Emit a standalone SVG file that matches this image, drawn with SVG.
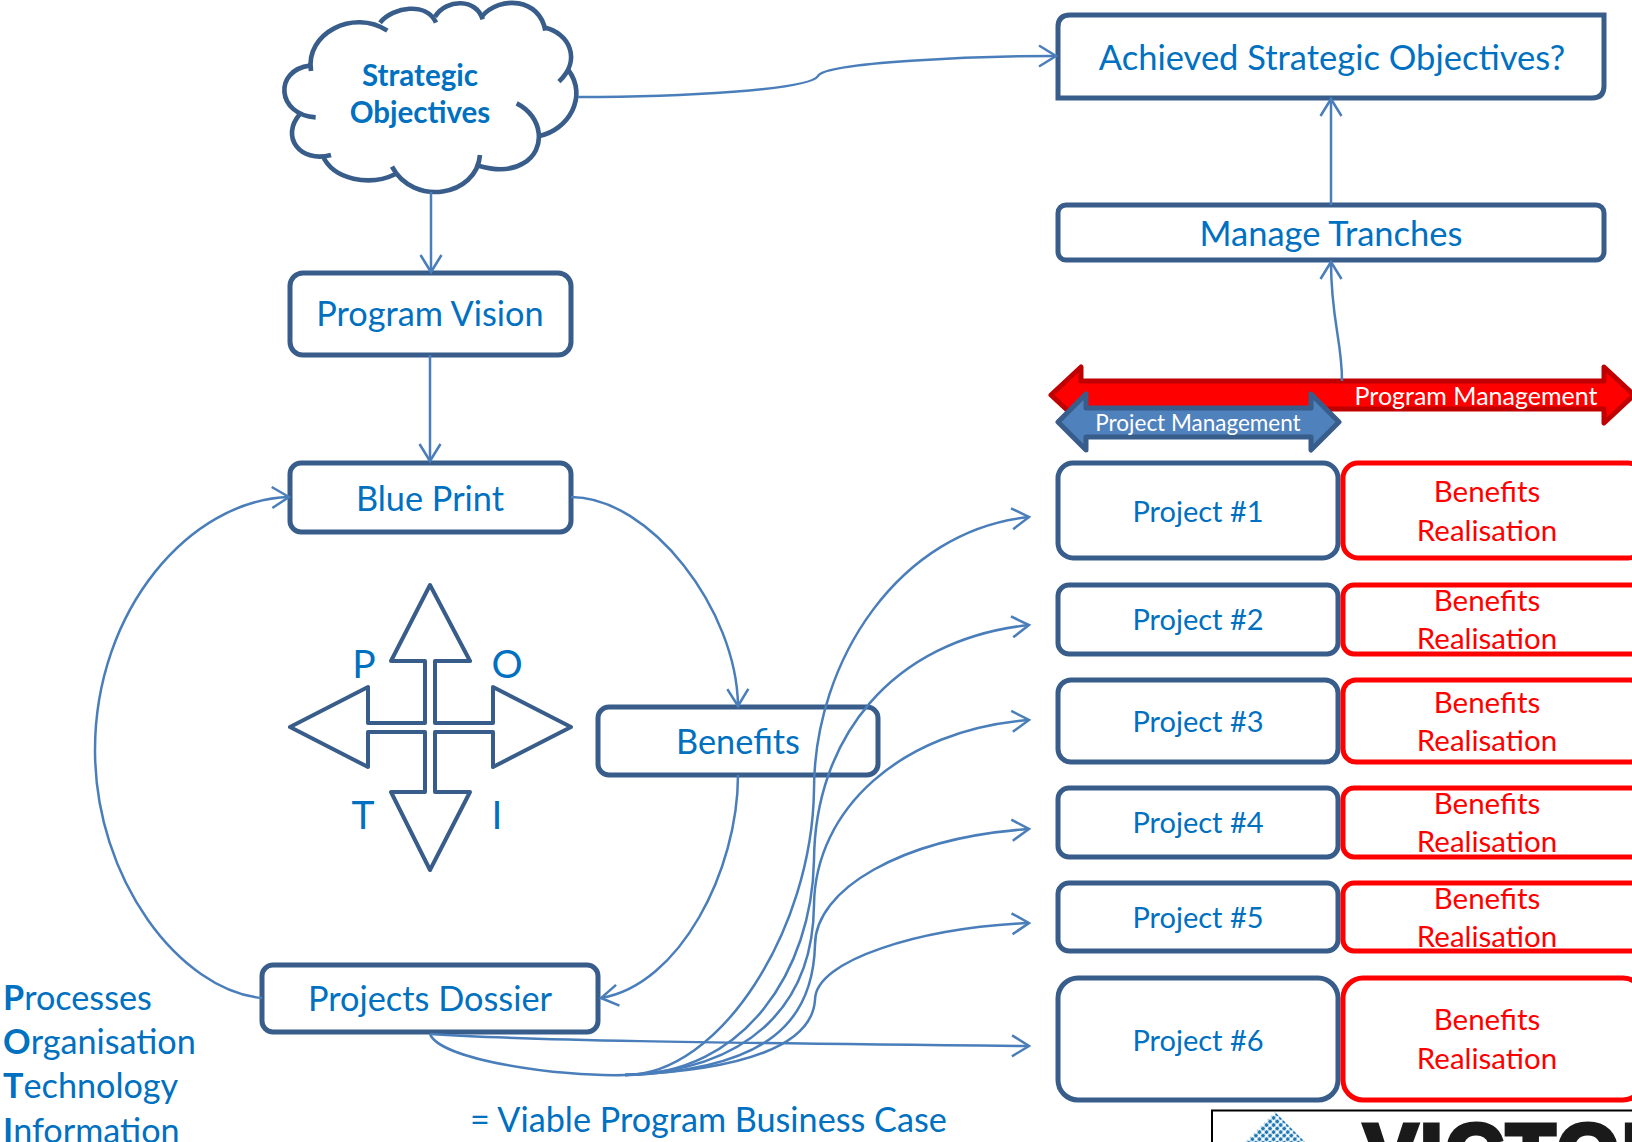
<svg xmlns="http://www.w3.org/2000/svg" width="1632" height="1142" viewBox="0 0 1632 1142">
<style>
text{font-family:"Lato","Liberation Sans",sans-serif;fill:#0070c0;text-anchor:middle}
.box{fill:#fff;stroke:#385d8a;stroke-width:5}
.red{fill:#fff;stroke:#f00;stroke-width:5}
.big{font-size:34.500px}
.mid{font-size:34.300px}
.prj{font-size:29px}
.ben{font-size:29.500px;fill:#f00}
.left{font-size:34.200px;text-anchor:start}
.c{fill:none;stroke:#4a7ebb;stroke-width:2.500}
.a{marker-end:url(#arr)}
</style>
<defs>
<marker id="arr" markerUnits="userSpaceOnUse" markerWidth="24" markerHeight="26" refX="18" refY="12" orient="auto"><path d="M1 1.500L18 12L1 22.500" fill="none" stroke="#4a7ebb" stroke-width="2.500"/></marker>
<pattern id="dots" width="5" height="5" patternUnits="userSpaceOnUse" patternTransform="rotate(45 1275 1113)"><circle cx="2.500" cy="2.500" r="1.900" fill="#1f78b4"/></pattern>
</defs>
<rect width="1632" height="1142" fill="#fff"/>
<g id="logo">
<rect x="1212" y="1110.500" width="430" height="50" fill="#fff" stroke="#000" stroke-width="2"/>
<polygon points="1275,1112 1307,1144 1243,1144" fill="url(#dots)"/>
<text x="1364" y="1180" style="font-family:'Liberation Sans',sans-serif;font-weight:700;font-size:80px;fill:#1a1a1a;stroke:#1a1a1a;stroke-width:5;text-anchor:start;letter-spacing:3px">VICTOR</text>
</g>
<g id="strategic-objectives">
<g transform="translate(260 0) scale(.3333)">
<path fill="#fff" d="M150 210C130 80 280 30 380 85C400 20 510 0 530 60C570 -5 650 0 670 55C730 -20 850 10 855 85C930 100 960 170 925 210C980 290 920 390 840 405C840 460 760 520 660 500C620 590 470 610 395 505C330 560 220 540 190 470C110 480 60 410 120 345C50 330 40 220 150 205Z"/>
<g fill="none" stroke="#385d8a" stroke-width="14">
<path d="M153 213C135 100 280 25 382 92"/>
<path d="M360 68C400 20 500 5 528 68"/>
<path d="M525 50C560 -5 650 -5 668 58"/>
<path d="M665 50C720 -15 840 -5 856 92"/>
<path d="M852 82C930 100 965 180 897 245"/>
<path d="M925 210C985 290 925 390 838 408"/>
<path d="M770 310C850 350 860 450 790 490C750 515 700 510 655 497"/>
<path d="M660 465C650 590 460 620 396 500"/>
<path d="M407 522C330 560 220 540 188 467"/>
<path d="M213 465C120 490 60 410 120 342"/>
<path d="M167 352C50 345 40 210 150 197"/>
</g>
</g>
<text x="420" y="86" font-weight="700" font-size="29.500px">Strategic</text>
<text x="420" y="123" font-weight="700" font-size="29.500px">Objectives</text>
</g>
<g id="achieved"><path class="box" d="M1070 15H1604V86Q1604 98 1592 98H1058V27Q1058 15 1070 15Z"/><text class="big" x="1332" y="70">Achieved Strategic Objectives?</text></g>
<g id="manage-tranches"><rect class="box" x="1058" y="205" width="546" height="55" rx="8"/><text class="big" x="1331" y="246">Manage Tranches</text></g>
<g id="program-vision"><rect class="box" x="290" y="273" width="281" height="82" rx="13"/><text class="mid" x="430" y="326">Program Vision</text></g>
<g id="blue-print"><rect class="box" x="290" y="463" width="281" height="69" rx="11"/><text class="mid" x="430" y="510.500">Blue Print</text></g>
<g id="benefits"><rect class="box" x="598" y="707" width="280" height="68" rx="11"/><text class="mid" x="738" y="754">Benefits</text></g>
<g id="projects-dossier"><rect class="box" x="262" y="965" width="336" height="67" rx="11"/><text class="mid" x="430" y="1011">Projects Dossier</text></g>
<g id="poti">
<polygon points="430,585 470,661 435,661 435,723 493,723 493,687 571,727 493,767 493,732 435,732 435,792 470,792 430,870 391,792 425,792 425,732 368,732 368,767 290,727 368,687 368,723 425,723 425,661 391,661" fill="#fff" stroke="#385d8a" stroke-width="4" stroke-linejoin="round"/>
<text x="364" y="678" font-size="39px">P</text>
<text x="507" y="678" font-size="39px">O</text>
<text x="363" y="829" font-size="39px">T</text>
<text x="497" y="829" font-size="39px">I</text>
</g>
<g id="program-management"><polygon points="1051,395 1081,367 1081,381 1604,381 1604,367 1634,395 1604,423 1604,409 1081,409 1081,423" fill="#f00" stroke="#c00000" stroke-width="5" stroke-linejoin="round"/><text x="1476" y="405" style="font-size:25px;fill:#fff">Program Management</text></g>
<g id="project-management"><polygon points="1058,422 1086,394 1086,408 1311,408 1311,394 1339,422 1311,450 1311,437 1086,437 1086,450" fill="#4f81bd" stroke="#385d8a" stroke-width="5" stroke-linejoin="round"/><text x="1198" y="430.500" style="font-size:22.500px;fill:#fff">Project Management</text></g>
<g id="project-1"><rect class="box" x="1058" y="463" width="280" height="95" rx="15"/><text class="prj" x="1198" y="522">Project #1</text></g>
<g id="benefits-1"><rect class="red" x="1343" y="463" width="300" height="95" rx="15"/><text class="ben" x="1487" y="502">Benefits</text><text class="ben" x="1487" y="541">Realisation</text></g>
<g id="project-2"><rect class="box" x="1058" y="585" width="280" height="69" rx="11"/><text class="prj" x="1198" y="630">Project #2</text></g>
<g id="benefits-2"><rect class="red" x="1343" y="585" width="300" height="69" rx="11"/><text class="ben" x="1487" y="611">Benefits</text><text class="ben" x="1487" y="649">Realisation</text></g>
<g id="project-3"><rect class="box" x="1058" y="680" width="280" height="82" rx="13"/><text class="prj" x="1198" y="732">Project #3</text></g>
<g id="benefits-3"><rect class="red" x="1343" y="680" width="300" height="82" rx="13"/><text class="ben" x="1487" y="713">Benefits</text><text class="ben" x="1487" y="751">Realisation</text></g>
<g id="project-4"><rect class="box" x="1058" y="788" width="280" height="69" rx="11"/><text class="prj" x="1198" y="833">Project #4</text></g>
<g id="benefits-4"><rect class="red" x="1343" y="788" width="300" height="69" rx="11"/><text class="ben" x="1487" y="814">Benefits</text><text class="ben" x="1487" y="852">Realisation</text></g>
<g id="project-5"><rect class="box" x="1058" y="883" width="280" height="68" rx="11"/><text class="prj" x="1198" y="927.500">Project #5</text></g>
<g id="benefits-5"><rect class="red" x="1343" y="883" width="300" height="68" rx="11"/><text class="ben" x="1487" y="909">Benefits</text><text class="ben" x="1487" y="947">Realisation</text></g>
<g id="project-6"><rect class="box" x="1058" y="978" width="280" height="122" rx="20"/><text class="prj" x="1198" y="1050.500">Project #6</text></g>
<g id="benefits-6"><rect class="red" x="1343" y="978" width="300" height="122" rx="20"/><text class="ben" x="1487" y="1030">Benefits</text><text class="ben" x="1487" y="1069">Realisation</text></g>
<g id="poti-legend">
<text class="left" x="3" y="1010"><tspan font-weight="700">P</tspan>rocesses</text>
<text class="left" x="3" y="1054"><tspan font-weight="700">O</tspan>rganisation</text>
<text class="left" x="3" y="1098"><tspan font-weight="700">T</tspan>echnology</text>
<text class="left" x="3" y="1143"><tspan font-weight="700">I</tspan>nformation</text>
</g>
<text class="left" x="470" y="1131.500">= Viable Program Business Case</text>
<g id="connectors">
<path class="c a" d="M578 97C680 97 810 90 818 76C825 62 980 56 1056 56"/>
<path class="c a" d="M431 192L431 272"/>
<path class="c a" d="M430 355L430 461"/>
<path class="c a" d="M1331 205L1331 99"/>
<path class="c a" d="M1342 381C1342 340 1331 320 1331 262"/>
<path class="c a" d="M571 497C650 497 737 610 738 706"/>
<path class="c a" d="M738 775C738 870 680 985 601 998"/>
<path class="c a" d="M262 998C180 990 95 880 95 750C95 610 190 500 289 497"/>
<path class="c" d="M430 1034C440 1060 560 1077 625 1075"/>
<path class="c a" d="M625 1075C720 1075 812 930 814 790C814 660 900 530 1029 517"/>
<path class="c a" d="M625 1075C745 1075 812 970 814 860C815 740 890 640 1029 625"/>
<path class="c a" d="M625 1075C755 1070 813 1000 814 905C815 810 900 730 1029 720"/>
<path class="c a" d="M625 1075C770 1070 813 1020 815 945C815 890 900 838 1029 829"/>
<path class="c a" d="M625 1075C745 1070 812 1045 815 1000C815 960 920 928 1029 923"/>
<path class="c a" d="M430 1034C520 1040 700 1043 1029 1046"/>
</g>
</svg>
